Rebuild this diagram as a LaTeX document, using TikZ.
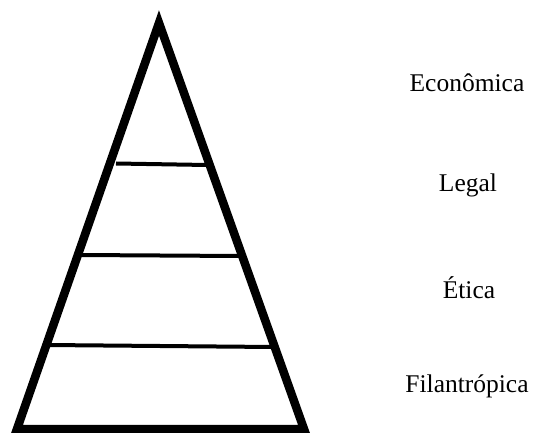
\documentclass[tikz,border=0pt]{standalone}
\usepackage{fontspec}
\setmainfont{Liberation Serif}
\begin{document}
\begin{tikzpicture}[x=1pt,y=-1pt,
  outline/.style={line width=8.5pt,line join=miter},
  divider/.style={line width=4pt},
  level/.style={anchor=base,inner sep=0pt,font=\fontsize{25.5}{30}\selectfont}]
\useasboundingbox (0,0) rectangle (533,433);
% pyramid outline
\coordinate (apex) at (159,23);
\coordinate (bl) at (17,429);
\coordinate (br) at (304,429);
\draw[outline] (apex) -- (br) -- (bl) -- cycle;
% dividing lines between the levels
\coordinate (d1l) at (116,163.5);
\coordinate (d1r) at (207,165);
\coordinate (d2l) at (80,255);
\coordinate (d2r) at (240,256);
\coordinate (d3l) at (47,345);
\coordinate (d3r) at (273,347);
\draw[divider] (d1l) -- (d1r);
\draw[divider] (d2l) -- (d2r);
\draw[divider] (d3l) -- (d3r);
% level names
\node[level] (eco) at (467,92) {Econômica};
\node[level] (leg) at (468,192) {Legal};
\node[level] (eti) at (469,298) {Ética};
\node[level] (fil) at (467,392) {Filantrópica};
\end{tikzpicture}
\end{document}
